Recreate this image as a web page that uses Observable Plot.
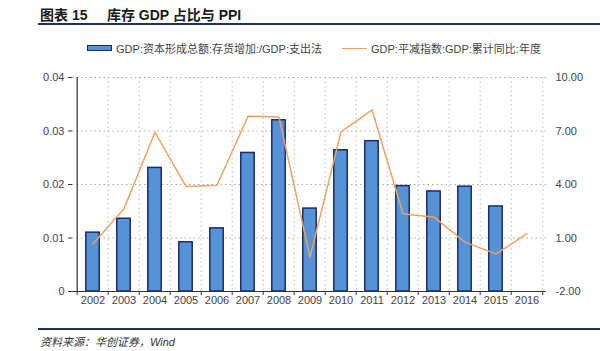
<!DOCTYPE html>
<html>
<head>
<meta charset="utf-8">
<script src="https://cdn.jsdelivr.net/npm/d3@7"></script>
<script src="https://cdn.jsdelivr.net/npm/@observablehq/plot@0.6"></script>
<style>
  html, body { margin: 0; padding: 0; background: #fff; }
  body { width: 600px; height: 351px; position: relative; overflow: hidden;
         font-family: "Liberation Sans", "Noto Sans CJK SC", sans-serif; }
  #title { position: absolute; left: 40px; top: 4px; font-size: 14px; font-weight: bold; color: #1a1a1a; white-space: pre; }
  #title-rule { position: absolute; left: 38px; right: 0; top: 23px; height: 2px; background: #1f3158; }
  #legend { position: absolute; top: 40px; left: 87px; font-size: 11px; color: #444; white-space: nowrap; }
  .item { position: absolute; top: 0; display: flex; align-items: center; }
  .sw-bar { width: 23px; height: 4px; background: #5592d6; border: 1px solid #1c2a6b; margin-right: 4px; }
  .sw-line { width: 25px; height: 0; border-top: 1.6px solid #f0a262; margin-right: 4px; }
  #chart { position: absolute; left: 0; top: 60px; }
  #foot-rule { position: absolute; left: 38px; right: 0; top: 328px; height: 1.5px; background: #1f3158; }
  #source { position: absolute; left: 40px; top: 333px; font-size: 11px; font-style: italic; color: #333; }
</style>
</head>
<body>
<div id="title">图表 15     库存 GDP 占比与 PPI</div>
<div id="title-rule"></div>
<div id="legend"></div>
<div id="chart"></div>
<div id="foot-rule"></div>
<div id="source">资料来源：华创证券，Wind</div>
<script>
const years = ["2002","2003","2004","2005","2006","2007","2008","2009","2010","2011","2012","2013","2014","2015","2016"];
const inventoryShare = [0.0110,0.0136,0.0231,0.0092,0.0118,0.0259,0.0320,0.0155,0.0264,0.0281,0.0197,0.0187,0.0196,0.0159,null];
const deflator = [0.68,2.64,6.93,3.89,3.96,7.83,7.78,-0.08,6.95,8.19,2.36,2.17,0.77,0.11,1.24];
const leftTicks = [0,0.01,0.02,0.03,0.04];
const rightTicks = [-2,1,4,7,10];
const seriesNames = ["GDP:资本形成总额:存货增加:/GDP:支出法", "GDP:平减指数:GDP:累计同比:年度"];

const rows = years.map((year, i) => ({year, share: inventoryShare[i], ppi: deflator[i]}));

// legend
const legend = document.getElementById("legend");
legend.innerHTML =
  `<div class="item" style="left:0"><span class="sw-bar"></span>${seriesNames[0]}</div>` +
  `<div class="item" style="left:255px"><span class="sw-line"></span>${seriesNames[1]}</div>`;

const width = 600, height = 260;
const marginLeft = 72, marginRight = 54, marginTop = 17, marginBottom = 29;
const step = (width - marginLeft - marginRight) / years.length;
const barWidth = 14;
const inset = (step - barWidth) / 2;

const y2 = d3.scaleLinear([rightTicks[0], rightTicks[rightTicks.length - 1]], [leftTicks[0], leftTicks[leftTicks.length - 1]]);

const fontFamily = "Liberation Sans, Noto Sans CJK SC, sans-serif";

const chart = Plot.plot({
  width, height, marginLeft, marginRight, marginTop, marginBottom,
  style: {fontFamily, fontSize: "11px", color: "#333", background: "white"},
  x: {type: "band", domain: years, padding: 0, axis: null, label: null},
  y: {domain: [leftTicks[0], leftTicks[leftTicks.length - 1]], axis: null, label: null},
  marks: [
    // horizontal dotted grid
    Plot.ruleY(leftTicks, {stroke: "#aaa", strokeDasharray: "1.5,3"}),
    // vertical dotted grid at band boundaries
    Plot.ruleX(years.slice(1), {x: d => d, dx: -step / 2, stroke: "#bbb", strokeDasharray: "1.5,3"}),
    Plot.ruleX([years[years.length - 1]], {x: d => d, dx: step / 2, stroke: "#bbb", strokeDasharray: "1.5,3"}),
    // bars
    Plot.barY(rows.filter(d => d.share != null), {
      x: "year", y: "share", fill: "#5592d6", stroke: "#1c2a6b", strokeWidth: 1.5,
      insetLeft: inset, insetRight: inset
    }),
    // line on secondary scale
    Plot.line(rows, {x: "year", y: d => y2(d.ppi), stroke: "#f0a262", strokeWidth: 1.5}),
    // axes lines
    Plot.ruleY([0], {stroke: "#333", strokeWidth: 1.2}),
    Plot.ruleX([years[0]], {x: d => d, dx: -step / 2, stroke: "#333", strokeWidth: 1.2}),
    // left axis
    Plot.axisY(leftTicks, {anchor: "left", label: null, tickSize: 4, tickPadding: 4, fill: "#444", stroke: "#333",
      tickFormat: d => d === 0 ? "0" : d.toFixed(2)}),
    // right axis
    Plot.axisY(rightTicks, {anchor: "right", label: null, y: d => y2(d), tickSize: 0, tickPadding: 9, fill: "#444",
      tickFormat: d => d.toFixed(2)}),
    // x ticks at band boundaries
    Plot.axisX(years, {label: null, tickSize: 4, dx: -step / 2, tickFormat: () => "", stroke: "#333"}),
    Plot.axisX([years[years.length - 1]], {label: null, tickSize: 4, dx: step / 2, tickFormat: () => "", stroke: "#333"}),
    // x labels
    Plot.axisX(years, {label: null, tickSize: 0, tickPadding: 5, fill: "#444"})
  ]
});
document.getElementById("chart").appendChild(chart);
</script>
</body>
</html>
